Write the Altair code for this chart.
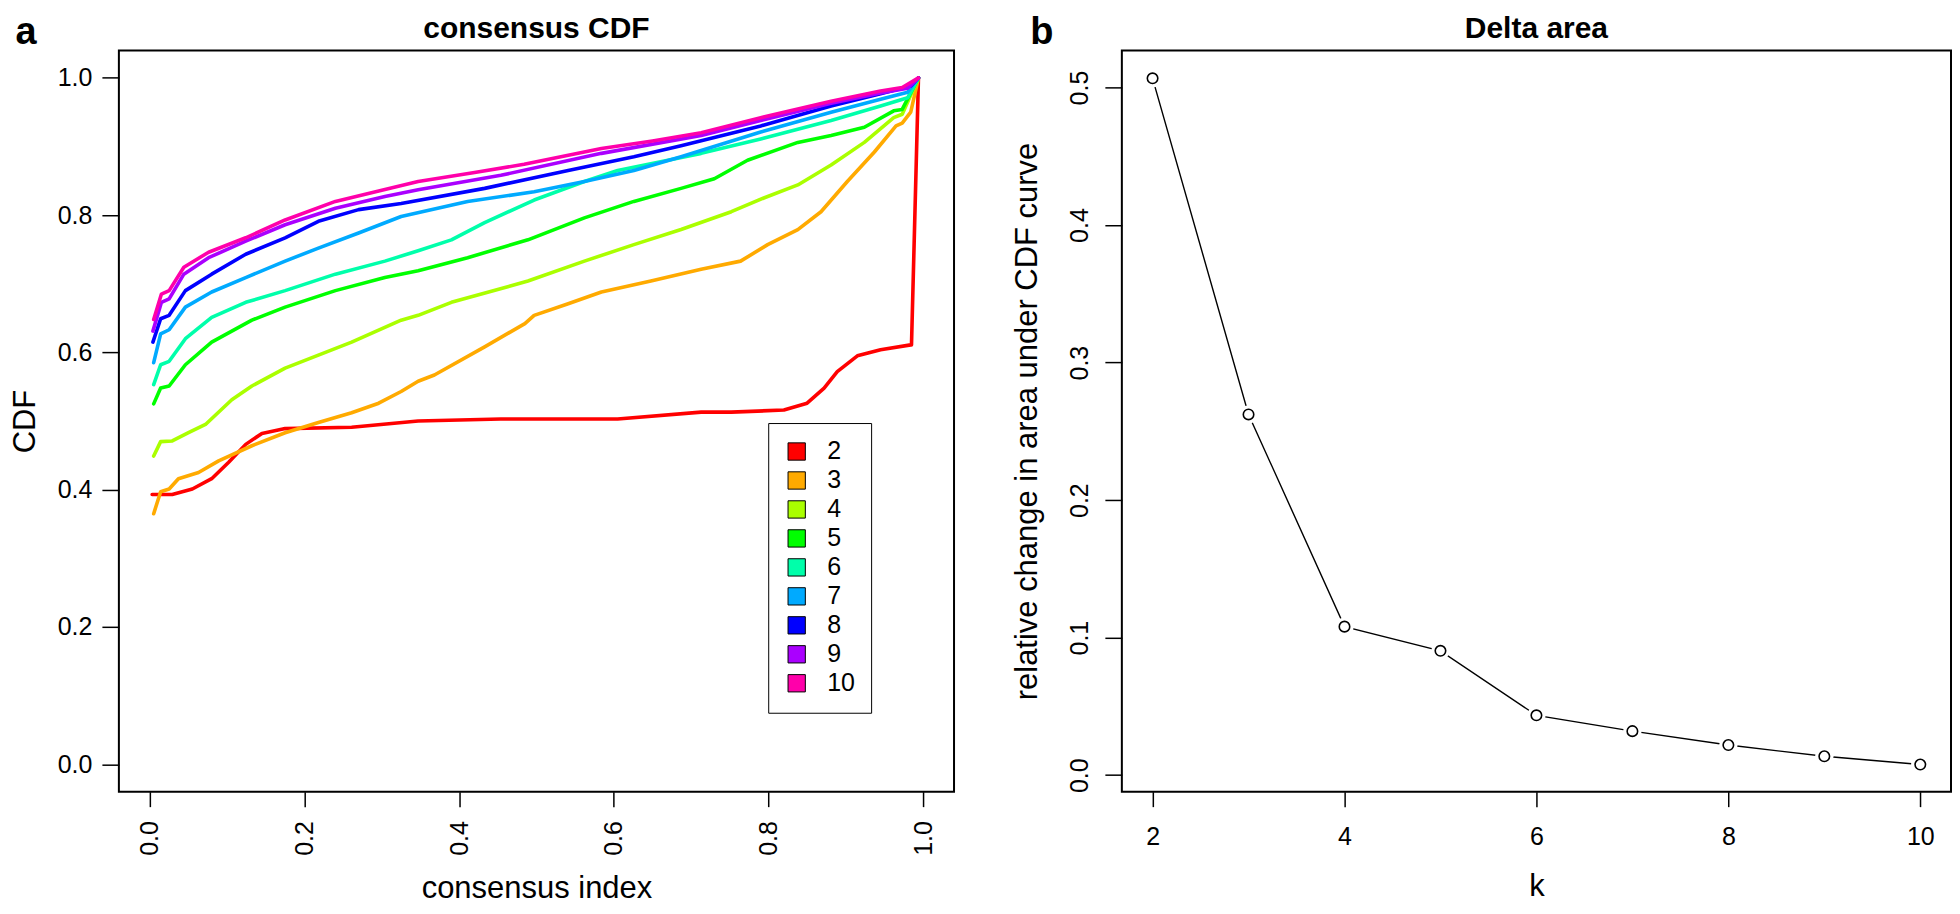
import altair as alt
import pandas as pd

FONT = "Liberation Sans"

# ---------------- panel a: consensus CDF ----------------
k_labels = ["2", "3", "4", "5", "6", "7", "8", "9", "10"]
k_colors = ["#FF0000", "#FFAA00", "#AAFF00", "#00FF00", "#00FFAA",
            "#00AAFF", "#0000FF", "#AA00FF", "#FF00AA"]

k2_x = [0.003, 0.029, 0.055, 0.080, 0.102, 0.124, 0.145, 0.175, 0.261, 0.347, 0.454, 0.605,
        0.713, 0.752, 0.820, 0.850, 0.872, 0.889, 0.915, 0.945, 0.984, 0.985, 0.994]
k2_y = [0.393, 0.393, 0.401, 0.416, 0.440, 0.466, 0.482, 0.489, 0.491, 0.500, 0.503, 0.503,
        0.513, 0.513, 0.516, 0.526, 0.548, 0.572, 0.595, 0.604, 0.611, 0.611, 1.000]

k3_x = [0.005, 0.014, 0.025, 0.037, 0.063, 0.089, 0.132, 0.175, 0.218, 0.261, 0.296, 0.325,
        0.347, 0.368, 0.433, 0.485, 0.497, 0.541, 0.584, 0.648, 0.713, 0.764, 0.799, 0.838,
        0.868, 0.902, 0.937, 0.965, 0.973, 0.984, 0.994]
k3_y = [0.365, 0.397, 0.401, 0.416, 0.425, 0.442, 0.464, 0.483, 0.498, 0.512, 0.526, 0.543,
        0.558, 0.567, 0.608, 0.642, 0.654, 0.671, 0.688, 0.704, 0.721, 0.733, 0.757, 0.779,
        0.805, 0.849, 0.892, 0.930, 0.934, 0.950, 1.000]

k4_x = [0.005, 0.014, 0.029, 0.050, 0.072, 0.106, 0.132, 0.175, 0.218, 0.261, 0.325, 0.347,
        0.390, 0.489, 0.562, 0.626, 0.687, 0.752, 0.794, 0.838, 0.881, 0.924, 0.962, 0.973, 0.994]
k4_y = [0.449, 0.470, 0.471, 0.483, 0.495, 0.531, 0.551, 0.577, 0.596, 0.615, 0.647, 0.654,
        0.673, 0.704, 0.733, 0.757, 0.779, 0.805, 0.825, 0.844, 0.873, 0.906, 0.942, 0.947, 1.000]

k5_x = [0.005, 0.014, 0.025, 0.046, 0.080, 0.132, 0.175, 0.240, 0.304, 0.347, 0.411, 0.489,
        0.562, 0.626, 0.687, 0.730, 0.773, 0.838, 0.881, 0.924, 0.962, 0.973, 0.994]
k5_y = [0.525, 0.548, 0.551, 0.582, 0.615, 0.647, 0.666, 0.690, 0.709, 0.719, 0.738, 0.764,
        0.796, 0.820, 0.839, 0.853, 0.880, 0.906, 0.916, 0.928, 0.952, 0.954, 1.000]

k6_x = [0.005, 0.014, 0.025, 0.046, 0.080, 0.124, 0.175, 0.240, 0.304, 0.347, 0.390, 0.433,
        0.497, 0.562, 0.605, 0.670, 0.713, 0.790, 0.881, 0.945, 0.980, 0.994]
k6_y = [0.553, 0.582, 0.587, 0.620, 0.651, 0.673, 0.690, 0.714, 0.733, 0.748, 0.764, 0.789,
        0.822, 0.849, 0.865, 0.880, 0.890, 0.911, 0.938, 0.959, 0.971, 1.000]

k7_x = [0.005, 0.014, 0.025, 0.046, 0.080, 0.124, 0.175, 0.218, 0.270, 0.325, 0.411, 0.497,
        0.562, 0.626, 0.687, 0.790, 0.881, 0.945, 0.980, 0.994]
k7_y = [0.585, 0.627, 0.633, 0.666, 0.688, 0.709, 0.733, 0.752, 0.774, 0.798, 0.820, 0.834,
        0.849, 0.865, 0.885, 0.921, 0.950, 0.969, 0.979, 1.000]

k8_x = [0.004, 0.014, 0.025, 0.046, 0.080, 0.124, 0.175, 0.218, 0.270, 0.325, 0.433, 0.541,
        0.626, 0.687, 0.790, 0.881, 0.945, 0.984, 0.994]
k8_y = [0.615, 0.649, 0.654, 0.690, 0.714, 0.743, 0.767, 0.791, 0.808, 0.817, 0.839, 0.865,
        0.885, 0.901, 0.930, 0.959, 0.977, 0.988, 1.000]

k9_x = [0.004, 0.015, 0.025, 0.044, 0.076, 0.124, 0.175, 0.240, 0.304, 0.347, 0.454, 0.584,
        0.713, 0.790, 0.881, 0.945, 0.980, 0.994]
k9_y = [0.631, 0.673, 0.678, 0.714, 0.738, 0.762, 0.786, 0.810, 0.827, 0.837, 0.858, 0.890,
        0.916, 0.938, 0.963, 0.978, 0.985, 1.000]

k10_x = [0.005, 0.015, 0.025, 0.044, 0.076, 0.124, 0.175, 0.240, 0.296, 0.347, 0.420, 0.484,
         0.584, 0.650, 0.713, 0.790, 0.881, 0.945, 0.973, 0.994]
k10_y = [0.648, 0.685, 0.690, 0.724, 0.746, 0.767, 0.793, 0.820, 0.835, 0.849, 0.862, 0.874,
         0.897, 0.908, 0.920, 0.942, 0.966, 0.981, 0.986, 1.000]

cdf_ticks = [0.0, 0.2, 0.4, 0.6, 0.8, 1.0]

# ---------------- panel b: Delta area ----------------
k_values = [2, 3, 4, 5, 6, 7, 8, 9, 10]
delta_values = [0.5067, 0.2623, 0.1080, 0.0904, 0.0435, 0.0320, 0.0219, 0.0137, 0.0077]
k_ticks = [2, 4, 6, 8, 10]
delta_ticks = [0.0, 0.1, 0.2, 0.3, 0.4, 0.5]

# ---------------- build tables ----------------
series = [k2_x, k2_y, k3_x, k3_y, k4_x, k4_y, k5_x, k5_y, k6_x, k6_y,
          k7_x, k7_y, k8_x, k8_y, k9_x, k9_y, k10_x, k10_y]
rows = []
for j, lab in enumerate(k_labels):
    xs, ys = series[2 * j], series[2 * j + 1]
    for i, (xv, yv) in enumerate(zip(xs, ys)):
        rows.append({"k": lab, "col": k_colors[j], "grp": j, "i": i, "x": xv, "y": yv})
cdf_df = pd.DataFrame(rows)

delta_df = pd.DataFrame({"k": k_values, "delta": delta_values})

LW, RW, H = 836, 830, 742

xa = alt.Scale(domain=[-0.04, 1.04], nice=False, zero=False)
ya = alt.Scale(domain=[-0.04, 1.04], nice=False, zero=False)

# lines take their colours straight from the table (no scale -> no legend to merge)
lines = alt.Chart(cdf_df).mark_line(strokeWidth=3.6, strokeJoin="round", strokeCap="round").encode(
    x=alt.X("x:Q", scale=xa,
            axis=alt.Axis(values=cdf_ticks, format=".1f", labelAngle=-90, labelAlign="right",
                          labelBaseline="middle", title="consensus index", tickSize=15,
                          labelPadding=14, titlePadding=18)),
    y=alt.Y("y:Q", scale=ya,
            axis=alt.Axis(values=cdf_ticks, format=".1f", title="CDF", tickSize=17,
                          labelPadding=10, titlePadding=16)),
    color=alt.Color("col:N", scale=None),
    detail="grp:N",
    order=alt.Order("i:Q"),
)

# empty layer that only carries the filled-square legend
legend_layer = alt.Chart(cdf_df).transform_filter("datum.i < 0").mark_square(
    filled=True, stroke="black", strokeWidth=1, opacity=1
).encode(
    x=alt.X("x:Q", scale=xa),
    y=alt.Y("y:Q", scale=ya),
    fill=alt.Fill("k:N", scale=alt.Scale(domain=k_labels, range=k_colors), sort=k_labels,
                  legend=alt.Legend(title=None, orient="none", legendX=650, legendY=373,
                                    symbolType="square", symbolSize=300,
                                    symbolStrokeColor="black", symbolStrokeWidth=1,
                                    symbolOpacity=1,
                                    labelFont=FONT, labelFontSize=25, labelColor="black",
                                    labelOffset=18, rowPadding=3, padding=16,
                                    fillColor="white", strokeColor="black")),
)

tag_a = alt.Chart(pd.DataFrame({"t": ["a"]})).mark_text(
    font=FONT, fontSize=38, fontWeight="bold", align="center", baseline="top", color="black"
).encode(text="t:N", x=alt.value(-93), y=alt.value(-36))

ttl_a = alt.Chart(pd.DataFrame({"t": ["consensus CDF"]})).mark_text(
    font=FONT, fontSize=30, fontWeight="bold", align="center", baseline="top", color="black"
).encode(text="t:N", x=alt.value(LW / 2), y=alt.value(-36))

left = alt.layer(lines, legend_layer, tag_a, ttl_a).properties(width=LW, height=H)

xb = alt.Scale(domain=[1.68, 10.32], nice=False, zero=False)
yb = alt.Scale(domain=[-0.012, 0.527], nice=False, zero=False)

base = alt.Chart(delta_df).encode(
    x=alt.X("k:Q", scale=xb,
            axis=alt.Axis(values=k_ticks, format="d", title="k", tickSize=15,
                          labelPadding=18, titlePadding=22)),
    y=alt.Y("delta:Q", scale=yb,
            axis=alt.Axis(values=delta_ticks, format=".1f", labelAngle=-90, labelAlign="center",
                          labelBaseline="bottom", title="relative change in area under CDF curve",
                          tickSize=17, labelPadding=12, titlePadding=24)),
)
d_line = base.mark_line(color="black", strokeWidth=1.4)
d_gap = base.mark_point(shape="circle", filled=True, color="white", opacity=1, size=340)
d_pts = base.mark_point(shape="circle", filled=False, color="black", opacity=1, size=110, strokeWidth=1.6)

tag_b = alt.Chart(pd.DataFrame({"t": ["b"]})).mark_text(
    font=FONT, fontSize=38, fontWeight="bold", align="center", baseline="top", color="black"
).encode(text="t:N", x=alt.value(-80), y=alt.value(-36))

ttl_b = alt.Chart(pd.DataFrame({"t": ["Delta area"]})).mark_text(
    font=FONT, fontSize=30, fontWeight="bold", align="center", baseline="top", color="black"
).encode(text="t:N", x=alt.value(RW / 2), y=alt.value(-36))

right = alt.layer(d_line, d_gap, d_pts, tag_b, ttl_b).properties(width=RW, height=H)

chart = alt.hconcat(left, right, spacing=56).properties(
    padding={"left": 0, "top": 5, "right": 0, "bottom": 0}
).configure_view(
    stroke="black", strokeWidth=2
).configure_axis(
    labelFont=FONT, titleFont=FONT, labelFontSize=25, titleFontSize=31,
    titleFontWeight="normal", labelColor="black", titleColor="black",
    tickColor="black", tickWidth=1.5, domain=False, grid=False
)

chart.save("out.html", embed_options={"renderer": "svg", "actions": False})
